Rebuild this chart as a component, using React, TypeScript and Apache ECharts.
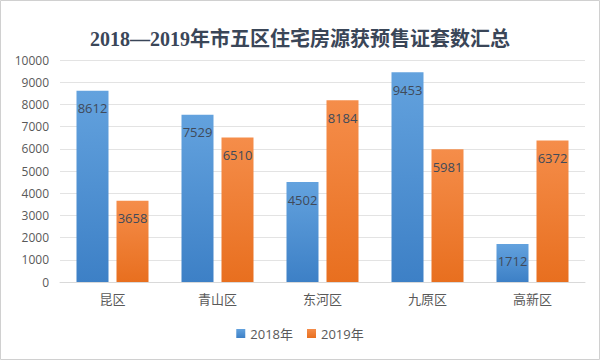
import React, { useEffect, useRef } from "react";
import * as echarts from "echarts";

const categories = ["昆区", "青山区", "东河区", "九原区", "高新区"];
const values2018 = [8612, 7529, 4502, 9453, 1712];
const values2019 = [3658, 6510, 8184, 5981, 6372];
const seriesNames = ["2018年", "2019年"];
const titleText = "2018—2019年市五区住宅房源获预售证套数汇总";

export default function App() {
  const ref = useRef<HTMLDivElement>(null);
  useEffect(() => {
    const chart = echarts.init(ref.current!, null, { renderer: "svg" });
    const labelCfg = {
      show: true,
      position: "insideTop",
      distance: 11,
      color: "#404a5a",
      fontSize: 13,
      fontFamily: "'Open Sans', 'Noto Sans', sans-serif",
    };
    chart.setOption({
      animation: false,
      backgroundColor: "#ffffff",
      title: {
        text: titleText,
        left: "center",
        top: 24,
        textStyle: {
          fontSize: 20,
          fontWeight: "bold",
          color: "#3a4658",
          fontFamily: "'Liberation Serif', 'Noto Sans CJK SC', serif",
        },
      },
      graphic: [
        {
          type: "rect",
          shape: { x: 0.5, y: 0.5, width: 599, height: 359 },
          style: { fill: "none", stroke: "#d0d0d0", lineWidth: 1 },
          silent: true,
        },
      ],
      legend: {
        bottom: 15,
        left: "center",
        itemWidth: 9,
        itemHeight: 9,
        itemGap: 14,
        icon: "rect",
        textStyle: {
          fontSize: 13,
          color: "#595959",
          fontFamily: "'Open Sans', 'Noto Sans CJK SC', sans-serif",
        },
        data: seriesNames,
      },
      grid: { left: 60, right: 15, top: 60, bottom: 78 },
      xAxis: {
        type: "category",
        data: categories,
        axisLine: { lineStyle: { color: "#d9d9d9" } },
        axisTick: { show: false },
        axisLabel: {
          fontSize: 13,
          color: "#595959",
          margin: 10,
          fontFamily: "'Noto Sans CJK SC', sans-serif",
        },
      },
      yAxis: {
        type: "value",
        min: 0,
        max: 10000,
        interval: 1000,
        axisLine: { show: false },
        axisTick: { show: false },
        splitLine: { lineStyle: { color: "#e3e3e3" } },
        axisLabel: {
          fontSize: 12,
          color: "#595959",
          margin: 11,
          formatter: (v: number) => String(v),
          fontFamily: "'Open Sans', 'Noto Sans', sans-serif",
        },
      },
      series: [
        {
          name: seriesNames[0],
          type: "bar",
          data: values2018,
          barWidth: 32,
          barGap: "25%",
          label: labelCfg,
          itemStyle: {
            color: new echarts.graphic.LinearGradient(0, 0, 0, 1, [
              { offset: 0, color: "#63a2de" },
              { offset: 1, color: "#3d80c6" },
            ]),
          },
        },
        {
          name: seriesNames[1],
          type: "bar",
          data: values2019,
          barWidth: 32,
          label: labelCfg,
          itemStyle: {
            color: new echarts.graphic.LinearGradient(0, 0, 0, 1, [
              { offset: 0, color: "#f58d4a" },
              { offset: 1, color: "#e86f1f" },
            ]),
          },
        },
      ],
    });
    return () => chart.dispose();
  }, []);
  return (
    <div
      ref={ref}
      style={{ position: "fixed", left: 0, top: 0, width: 600, height: 360 }}
    />
  );
}
